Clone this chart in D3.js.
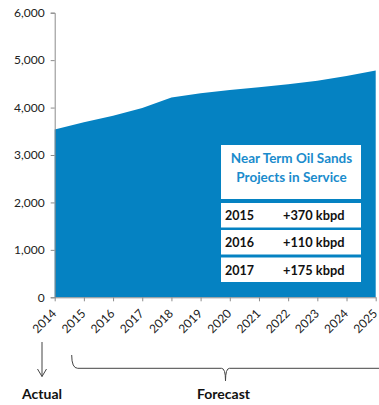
<!DOCTYPE html>
<html>
<head>
<meta charset="utf-8">
<script src="https://cdn.jsdelivr.net/npm/d3@7"></script>
<style>
html,body{margin:0;padding:0;background:#fff;}
svg{display:block;font-family:Lato,"Open Sans",sans-serif;}
</style>
</head>
<body>
<svg id="chart" width="379" height="405"></svg>
<script>
const years = [2014,2015,2016,2017,2018,2019,2020,2021,2022,2023,2024,2025];
const supply = [3540,3690,3830,3990,4210,4300,4370,4430,4490,4565,4665,4780];
const yTicks = [0,1000,2000,3000,4000,5000,6000];
const tableTitle = ["Near Term Oil Sands","Projects in Service"];
const tableYears = ["2015","2016","2017"];
const tableAdds = ["+370 kbpd","+110 kbpd","+175 kbpd"];
const actualLabel = "Actual";
const forecastLabel = "Forecast";

const svg = d3.select("#chart");
const m = {l:54.7, t:12.7, r:3.3, b:107.7};
const W = 379, H = 405;
const x = d3.scaleLinear().domain([2014,2025]).range([m.l, W-m.r]);
const y = d3.scaleLinear().domain([0,6000]).range([H-m.b, m.t]);

const blue = "#0582c2";
const axisGray = "#8c8c8c";

// area
const area = d3.area().x((d,i)=>x(years[i])).y0(y(0)).y1(d=>y(d));
svg.append("path").datum(supply).attr("d", area).attr("fill", blue);

// y axis
const yAxis = svg.append("g").attr("transform",`translate(${m.l},0)`)
  .call(d3.axisLeft(y).tickValues(yTicks).tickFormat(d3.format(",")).tickSize(4).tickPadding(6));
yAxis.select(".domain").attr("stroke", axisGray);
yAxis.selectAll(".tick line").attr("stroke", axisGray);
yAxis.selectAll(".tick text").attr("fill","#222").style("font-size","12px").style("font-family","Lato,'Open Sans',sans-serif");

// x axis
const xAxis = svg.append("g").attr("transform",`translate(0,${y(0)})`)
  .call(d3.axisBottom(x).tickValues(years).tickFormat(d3.format("d")).tickSize(4).tickSizeOuter(0));
xAxis.select(".domain").attr("stroke", axisGray);
xAxis.selectAll(".tick line").attr("stroke", axisGray);
xAxis.selectAll(".tick text")
  .attr("fill","#222").style("font-size","12px").style("font-family","Lato,'Open Sans',sans-serif")
  .attr("text-anchor","end")
  .attr("y",0).attr("dy","0.35em")
  .attr("transform","translate(-1,14) rotate(-45)");

// table overlay
const tx = 221, tw = 140;
const tbl = svg.append("g");
tbl.append("rect").attr("x",tx).attr("y",145).attr("width",tw).attr("height",54).attr("fill","#fff");
tableTitle.forEach((t,i)=>{
  tbl.append("text").attr("x",tx+tw/2+0.5).attr("y",163+i*19).attr("text-anchor","middle")
    .attr("fill","#1a8bcc").style("font-weight","bold").style("font-size","13.5px").text(t);
});
const rowY = [203,230,257.5];
tableYears.forEach((yr,i)=>{
  tbl.append("rect").attr("x",tx).attr("y",rowY[i]).attr("width",tw).attr("height",24.5).attr("fill","#fff");
  tbl.append("text").attr("x",tx+4).attr("y",rowY[i]+17).attr("fill","#111")
    .style("font-weight","bold").style("font-size","12.5px").text(yr);
  tbl.append("text").attr("x",tx+62).attr("y",rowY[i]+17).attr("fill","#111")
    .style("font-weight","bold").style("font-size","12.8px").text(tableAdds[i]);
});

// annotations
const ann = svg.append("g").attr("stroke","#444").attr("fill","none").attr("stroke-width",1);
const ax = 42;
ann.append("line").attr("x1",ax).attr("y1",342).attr("x2",ax).attr("y2",376.5);
ann.append("path").attr("d",`M${ax-4.5},369 L${ax},376.5 L${ax+4.5},369`);
const bL = 71.7, bR = 386, bMid = 225.5, bY = 368.3;
ann.append("path").attr("d",
  `M${bL},355 Q${bL},${bY} ${bL+6},${bY} L${bMid-4},${bY} Q${bMid},${bY} ${bMid},${bY+12.5} Q${bMid},${bY} ${bMid+4},${bY} L${bR-5},${bY} Q${bR},${bY} ${bR},355`);
svg.append("text").attr("x",ax).attr("y",399).attr("text-anchor","middle")
  .attr("fill","#111").style("font-weight","bold").style("font-size","14px").text(actualLabel);
svg.append("text").attr("x",bMid-2).attr("y",399).attr("text-anchor","middle")
  .attr("fill","#111").style("font-weight","bold").style("font-size","14px").text(forecastLabel);
</script>
</body>
</html>
